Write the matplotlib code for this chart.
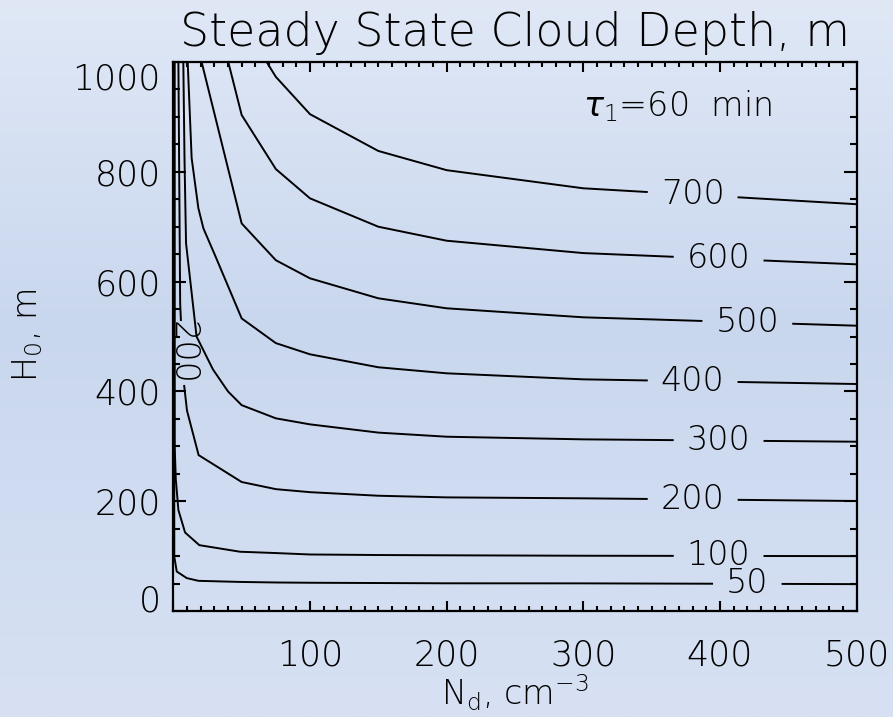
import numpy as np
import matplotlib.pyplot as plt
from matplotlib.ticker import MultipleLocator

plt.rcParams['font.family'] = ['DejaVu Sans']
plt.rcParams['font.weight'] = 'light'
plt.rcParams['mathtext.default'] = 'regular'

# contour levels of steady state cloud depth (m)
levels = [50, 100, 200, 300, 400, 500, 600, 700]

# each contour traced as droplet concentration N_d (cm^-3) vs initial height H0 (m)
nd_50 = [0.5, 0.7, 2.5, 9.8, 18.4, 48.8, 75, 100, 150, 200, 300, 500]
h0_50 = [1000, 99, 72, 60, 55, 53, 52, 51.5, 51, 50.5, 50.4, 49]

nd_100 = [1.0, 1.0, 1.8, 3.7, 8.6, 19, 48.8, 75, 100, 150, 200, 300, 500]
h0_100 = [1000, 300, 240, 184, 143, 120, 108, 105.6, 103, 102, 101.5, 100.7, 100]

nd_200 = [3.7, 5.0, 7.5, 10, 18.5, 50, 75, 100, 150, 200, 300, 500]
h0_200 = [1000, 560, 420, 365, 284, 235, 222, 216.5, 210, 207, 205.3, 200.4]

nd_300 = [7.3, 8.2, 9.3, 17, 29, 40, 50, 75, 100, 150, 200, 300, 500]
h0_300 = [1000, 820, 670, 500, 440, 400, 375, 351, 340, 325, 317.5, 312.7, 308.4]

nd_400 = [10.5, 13.4, 18.3, 22, 30.5, 50, 75, 100, 150, 200, 300, 500]
h0_400 = [1000, 825, 734, 697, 648, 533, 488, 467.6, 444, 433, 422, 413.5]

nd_500 = [20.7, 50, 75, 100, 150, 200, 300, 500]
h0_500 = [1000, 706, 639, 606, 569.6, 551.4, 535, 519.7]

nd_600 = [40.2, 50, 75, 100, 150, 200, 300, 500]
h0_600 = [1000, 903.5, 805, 751.7, 700, 674.5, 652, 631.5]

nd_700 = [68.3, 75, 100, 150, 200, 300, 500]
h0_700 = [1000, 973, 905, 838, 803, 770, 741]

contours = {50: (nd_50, h0_50), 100: (nd_100, h0_100), 200: (nd_200, h0_200),
            300: (nd_300, h0_300), 400: (nd_400, h0_400), 500: (nd_500, h0_500),
            600: (nd_600, h0_600), 700: (nd_700, h0_700)}

# where the level numbers go: N_d of the label centre, plus the upright one on 200 at H0
label_nd = {50: 420, 100: 399, 200: 380, 300: 399, 400: 380, 500: 420, 600: 399, 700: 380}
label_h0_vertical = {200: 470}

xticks = [0, 100, 200, 300, 400, 500]
xticklabels = ['', '100', '200', '300', '400', '500']
yticks = [0, 200, 400, 600, 800, 1000]


def split(xs, ys, lo, hi, use_y=False):
    # cut out the stretch of a polyline whose x (or y) lies between lo and hi
    xs = np.asarray(xs, float)
    ys = np.asarray(ys, float)
    k = ys if use_y else xs
    o = xs if use_y else ys
    if k[0] > k[-1]:
        k, o = k[::-1], o[::-1]
    a_k = np.append(k[k < lo], lo)
    a_o = np.append(o[k < lo], np.interp(lo, k, o))
    b_k = np.insert(k[k > hi], 0, hi)
    b_o = np.insert(o[k > hi], 0, np.interp(hi, k, o))
    if use_y:
        return [(a_o, a_k), (b_o, b_k)]
    return [(a_k, a_o), (b_k, b_o)]


fig = plt.figure(figsize=(8.93, 7.17), dpi=100)

# soft blue backdrop
bg = fig.add_axes([0, 0, 1, 1], zorder=-10)
rows = np.linspace(0, 1, 400)
stops = [0.0, 0.45, 1.0]
r = np.interp(rows, stops, [224, 201, 215])
g = np.interp(rows, stops, [232, 215, 225])
b = np.interp(rows, stops, [246, 238, 243])
grad = np.stack([r, g, b], axis=1)[:, None, :].repeat(2, axis=1) / 255
bg.imshow(grad, aspect='auto', extent=[0, 1, 0, 1], interpolation='bilinear')
bg.axis('off')

ax = fig.add_axes([0.1941, 0.1478, 0.7652, 0.7657])
ax.set_facecolor('none')
ax.set_xlim(0, 500)
ax.set_ylim(0, 1000)

renderer = fig.canvas.get_renderer()
lfs = 24

for lev in levels:
    nd, h0 = contours[lev]
    pieces = [(np.asarray(nd, float), np.asarray(h0, float))]

    if lev in label_h0_vertical:
        yc = label_h0_vertical[lev]
        xc = np.interp(yc, h0[::-1], nd[::-1])
        t = ax.text(xc, yc, str(lev), rotation=-90, ha='center', va='center',
                    fontsize=lfs, clip_on=False)
        bb = t.get_window_extent(renderer)
        half = bb.height / 2 + 1
        py = ax.transData.transform([(0, 0), (0, 1)])
        dy = half / (py[1, 1] - py[0, 1])
        pieces = split(pieces[0][0], pieces[0][1], yc - dy, yc + dy, use_y=True)

    xc = label_nd[lev]
    for i, (px_, py_) in enumerate(pieces):
        if px_[0] > px_[-1]:
            px_, py_ = px_[::-1], py_[::-1]
        if px_.min() <= xc <= px_.max():
            yc = np.interp(xc, px_, py_)
            t = ax.text(xc, yc, str(lev), ha='center', va='center', fontsize=lfs)
            bb = t.get_window_extent(renderer)
            half = bb.width / 2 + 14
            pxs = ax.transData.transform([(0, 0), (1, 0)])
            dx = half / (pxs[1, 0] - pxs[0, 0])
            pieces = pieces[:i] + split(px_, py_, xc - dx, xc + dx) + pieces[i + 1:]
            break

    for px_, py_ in pieces:
        ax.plot(px_, py_, color='black', lw=1.4, solid_joinstyle='miter')

ax.text(0.737, 0.92, r'$\mathit{\tau}_1$=60  min', transform=ax.transAxes,
        ha='center', va='center', fontsize=lfs)

ax.set_xticks(xticks)
ax.set_xticklabels(xticklabels)
ax.set_yticks(yticks)
ax.set_yticklabels([str(v) for v in yticks])
ax.xaxis.set_minor_locator(MultipleLocator(10))
ax.yaxis.set_minor_locator(MultipleLocator(50))

ax.tick_params(which='both', direction='in', top=True, right=True, width=1.5,
               labelsize=25, colors='black')
ax.tick_params(axis='x', which='major', length=7.2, pad=20)
ax.tick_params(axis='x', which='minor', length=3.6)
ax.tick_params(axis='y', which='major', length=9.4, pad=9)
ax.tick_params(axis='y', which='minor', length=5)

ylabs = ax.get_yticklabels()
ylabs[0].set_va('baseline')
ylabs[-1].set_va('top')

for s in ax.spines.values():
    s.set_linewidth(1.6)

fig.text(515 / 893, 1 - 33 / 717, 'Steady State Cloud Depth, m', ha='center',
         va='center', fontsize=33)
fig.text(515 / 893, 1 - 693 / 717, r'N$_d$, cm$^{-3}$', ha='center', va='center',
         fontsize=24)
fig.text(28 / 893, 1 - 335 / 717, r'H$_0$, m', ha='center', va='center',
         rotation=90, fontsize=24)

fig.savefig('out.png', dpi=100)
